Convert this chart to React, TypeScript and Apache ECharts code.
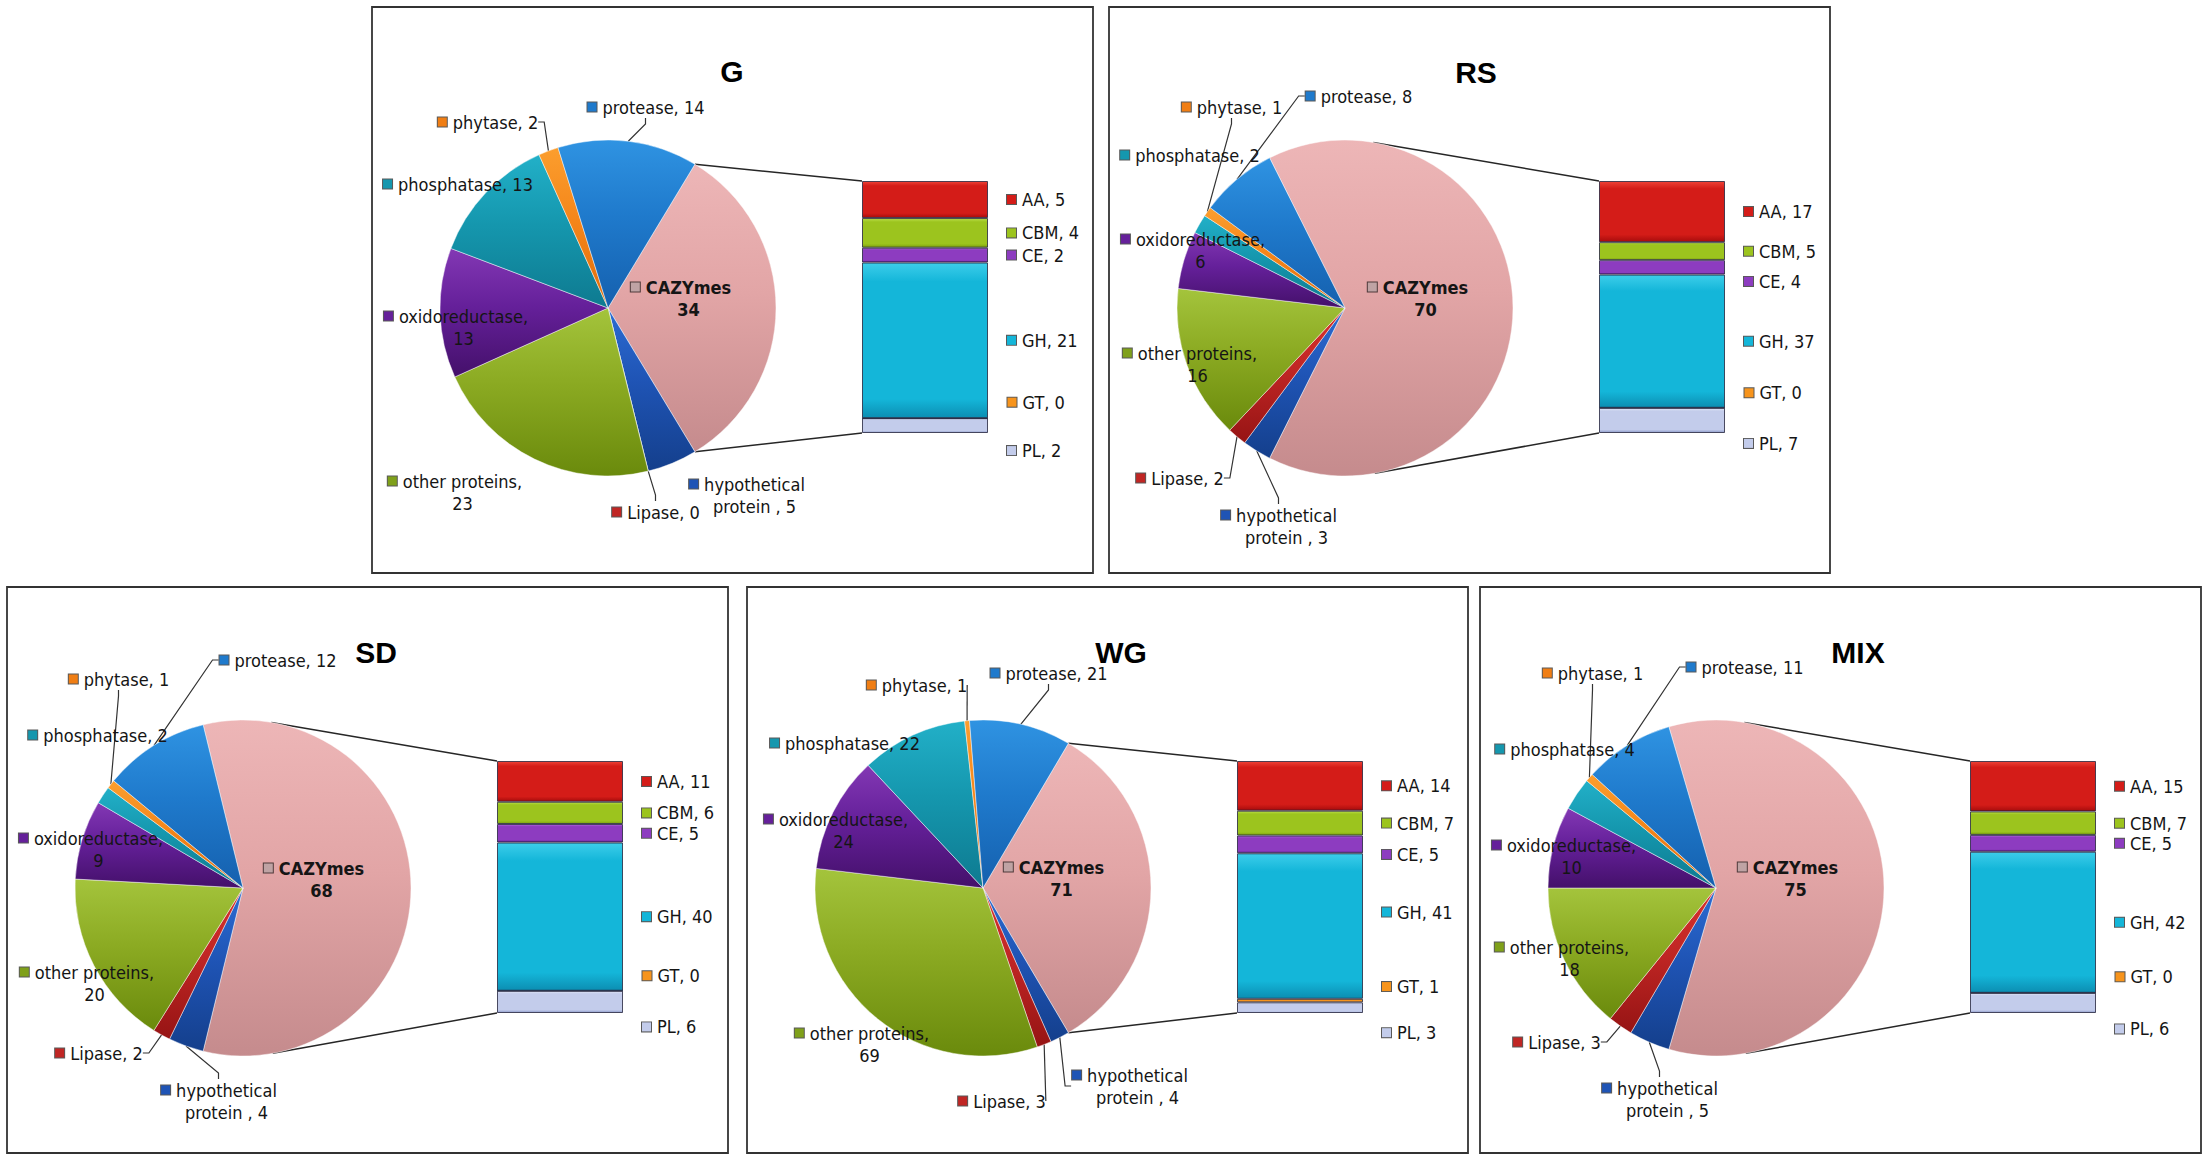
import React, { useEffect, useRef } from "react";
import * as echarts from "echarts";

// ---------------- data ----------------
const PANEL_NAMES = ["G", "RS", "SD", "WG", "MIX"];
const PIE_CATEGORIES = [
  "CAZYmes",
  "hypothetical protein ",
  "Lipase",
  "other proteins",
  "oxidoreductase",
  "phosphatase",
  "phytase",
  "protease",
];
const G_PIE = [34, 5, 0, 23, 13, 13, 2, 14];
const RS_PIE = [70, 3, 2, 16, 6, 2, 1, 8];
const SD_PIE = [68, 4, 2, 20, 9, 2, 1, 12];
const WG_PIE = [71, 4, 3, 69, 24, 22, 1, 21];
const MIX_PIE = [75, 5, 3, 18, 10, 4, 1, 11];

const BAR_CATEGORIES = ["AA", "CBM", "CE", "GH", "GT", "PL"];
const G_BAR = [5, 4, 2, 21, 0, 2];
const RS_BAR = [17, 5, 4, 37, 0, 7];
const SD_BAR = [11, 6, 5, 40, 0, 6];
const WG_BAR = [14, 7, 5, 41, 1, 3];
const MIX_BAR = [15, 7, 5, 42, 0, 6];

const PIE_VALUES = [G_PIE, RS_PIE, SD_PIE, WG_PIE, MIX_PIE];
const BAR_VALUES = [G_BAR, RS_BAR, SD_BAR, WG_BAR, MIX_BAR];

// ---------------- layout & style ----------------
const FONT = "'Liberation Sans Narrow', 'DejaVu Sans Condensed', 'Liberation Sans', sans-serif";
const TITLE_FONT = "'Liberation Sans Narrow', 'Liberation Sans', sans-serif";
const PANEL_ORIGINS = [
  [372, 7],
  [1109, 7],
  [7, 587],
  [747, 587],
  [1480, 587],
];
const PANEL_SIZE = [721, 566];
const PIE_CENTER = [236, 301];
const PIE_RADIUS = 168;
const BAR_BOX = [490, 174, 126, 252];
const TITLE_POS = [
  [360, 64],
  [367, 65],
  [369, 65],
  [374, 65],
  [378, 65],
];
// label block centres, relative to the panel, in PIE_CATEGORIES order
const PIE_LABEL_POS = [
  [[309, 291], [375, 488], [284, 505], [83, 485], [84, 320], [86, 177], [116, 115], [274, 100]],
  [[309, 291], [170, 519], [71, 471], [81, 357], [84, 243], [81, 148], [123, 100], [250, 89]],
  [[307, 292], [212, 514], [92, 466], [80, 396], [84, 262], [91, 148], [112, 92], [271, 73]],
  [[307, 291], [383, 499], [255, 514], [115, 457], [89, 243], [98, 156], [170, 98], [302, 86]],
  [[308, 291], [180, 512], [77, 455], [82, 371], [84, 269], [85, 162], [113, 86], [265, 80]],
];
const PIE_LEADERS = [
  [2, 6, 7],
  [1, 2, 6, 7],
  [1, 2, 6, 7],
  [1, 2, 6, 7],
  [1, 2, 6, 7],
];
const BAR_LABEL_DY = [
  [0, 0, 0, 0, -16, 25],
  [0, 0, 14, 0, -15, 23],
  [0, 0, 0, 0, -15, 25],
  [0, 0, 10, -14, -14, 25],
  [0, 0, 0, 0, -16, 26],
];

const PIE_COLORS = [
  ["#EDB6B7", "#E2A5A6", "#C58B8D"],
  ["#2C6CD2", "#1F54B5", "#143F8C"],
  ["#D8322F", "#C02624", "#961414"],
  ["#A4C43C", "#8BAA22", "#6A8A0C"],
  ["#8338B4", "#65209A", "#44106A"],
  ["#22B0C8", "#1597AE", "#0E7A90"],
  ["#FB9E2E", "#F5861A", "#DE6C0C"],
  ["#2F93E2", "#1F7ACC", "#1560AE"],
];
const PIE_MARKERS = ["#BFA3A4", "#1F54B5", "#C02624", "#7FA01A", "#65209A", "#1597AE", "#F07E14", "#1F7ACC"];
const BAR_COLORS = [
  ["#EE4136", "#D41C18", "#A80C0C"],
  ["#BADF48", "#9CC41E", "#7EA20E"],
  ["#B264DE", "#8D3CC0", "#62208E"],
  ["#3CCDEA", "#14B6D9", "#0C8EB2"],
  ["#FCAA3E", "#F7941C", "#E06E0A"],
  ["#DFE5F6", "#C3CCEB", "#8F9CCB"],
];

function vgrad(c: string[]) {
  return new echarts.graphic.LinearGradient(0, 0, 0, 1, [
    { offset: 0, color: c[0] },
    { offset: 0.45, color: c[1] },
    { offset: 1, color: c[2] },
  ]);
}
function barGrad(c: string[]) {
  return new echarts.graphic.LinearGradient(0, 0, 0, 1, [
    { offset: 0, color: c[0] },
    { offset: 0.12, color: c[1] },
    { offset: 0.88, color: c[1] },
    { offset: 1, color: c[2] },
  ]);
}

function pieLabelText(i: number, name: string, v: number) {
  const mk = `{m${i}|}{g|}`;
  if (name === "CAZYmes") return `${mk}{b|${name}}\n{s|}{b|${v}}`;
  if (name.startsWith("hypothetical")) {
    const parts = name.split(" ");
    return `${mk}${parts[0]}\n{s|}${parts.slice(1).join(" ")}, ${v}`;
  }
  if (name === "oxidoreductase" || name === "other proteins") return `${mk}${name},\n{s|}${v}`;
  return `${mk}${name}, ${v}`;
}

function markerStyle(color: string) {
  return {
    width: 9,
    height: 9,
    backgroundColor: color,
    borderColor: "rgba(0,0,0,0.65)",
    borderWidth: 1,
  };
}

function buildOption() {
  const series: any[] = [];
  const grids: any[] = [];
  const xAxes: any[] = [];
  const yAxes: any[] = [];
  const graphics: any[] = [];

  const pieRich: any = { g: { width: 6 }, s: { width: 15 }, b: { fontWeight: "bold", fontSize: 18, fontFamily: FONT } };
  PIE_MARKERS.forEach((c, i) => (pieRich["m" + i] = markerStyle(c)));

  PANEL_NAMES.forEach((name, p) => {
    const [px, py] = PANEL_ORIGINS[p];
    const pie = PIE_VALUES[p];
    const bar = BAR_VALUES[p];
    const total = pie.reduce((a, b) => a + b, 0);
    const half = (pie[0] / total) * 180;
    const cx = px + PIE_CENTER[0];
    const cy = py + PIE_CENTER[1];
    const labelPos = PIE_LABEL_POS[p];

    // panel frame
    graphics.push({
      type: "rect",
      z: 0,
      shape: { x: px, y: py, width: PANEL_SIZE[0], height: PANEL_SIZE[1] },
      style: { fill: "none", stroke: "#333333", lineWidth: 1.8 },
    });
    // title
    graphics.push({
      type: "text",
      x: px + TITLE_POS[p][0],
      y: py + TITLE_POS[p][1],
      style: {
        text: name,
        font: `bold 30px ${TITLE_FONT}`,
        fill: "#000",
        align: "center",
        verticalAlign: "middle",
      },
    });

    // pie
    series.push({
      type: "pie",
      name,
      center: [cx, cy],
      radius: PIE_RADIUS,
      startAngle: half,
      clockwise: true,
      avoidLabelOverlap: false,
      label: {
        show: true,
        position: "outside",
        fontFamily: FONT,
        fontSize: 18,
        lineHeight: 22,
        color: "#151515",
        formatter: (prm: any) => pieLabelText(prm.dataIndex, prm.name, prm.value),
        rich: pieRich,
      },
      labelLine: {
        show: false,
        length: 6,
        length2: 6,
        lineStyle: { color: "#333333", width: 1.2 },
      },
      labelLayout: (prm: any) => {
        const pos = labelPos[prm.dataIndex];
        return { x: px + pos[0], y: py + pos[1], align: "center", verticalAlign: "middle" };
      },
      itemStyle: { borderColor: "rgba(255,255,255,0.45)", borderWidth: 1 },
      emphasis: { disabled: true },
      data: PIE_CATEGORIES.map((c, i) => ({
        name: c,
        value: pie[i],
        itemStyle: { color: vgrad(PIE_COLORS[i]) },
        labelLine: { show: PIE_LEADERS[p].includes(i) },
      })),
    });

    // bar (breakdown of CAZYmes)
    const barTotal = bar.reduce((a, b) => a + b, 0);
    const bx = px + BAR_BOX[0];
    const by = py + BAR_BOX[1];
    grids.push({ left: bx, top: by, width: BAR_BOX[2], height: BAR_BOX[3] });
    xAxes.push({ type: "category", gridIndex: p, data: ["CAZYmes"], show: false });
    yAxes.push({ type: "value", gridIndex: p, min: 0, max: barTotal, show: false });
    for (let k = BAR_CATEGORIES.length - 1; k >= 0; k--) {
      series.push({
        type: "bar",
        name: BAR_CATEGORIES[k],
        xAxisIndex: p,
        yAxisIndex: p,
        stack: "caz" + p,
        barWidth: "100%",
        data: [bar[k]],
        itemStyle: { color: barGrad(BAR_COLORS[k]), borderColor: "rgba(35,35,60,0.8)", borderWidth: 1 },
        emphasis: { disabled: true },
        label: {
          show: true,
          position: "right",
          distance: 19,
          offset: [0, BAR_LABEL_DY[p][k]],
          fontFamily: FONT,
          fontSize: 18,
          color: "#151515",
          formatter: `{m|}{g|}${BAR_CATEGORIES[k]}, ${bar[k]}`,
          rich: { m: markerStyle(BAR_COLORS[k][1]), g: { width: 6 } },
        },
      });
    }

    // connector lines from the CAZYmes slice (or tangent point) to the bar corners
    const toDeg = 180 / Math.PI;
    const connect = (qx: number, qy: number, top: boolean) => {
      const dx = qx - cx;
      const dy = cy - qy;
      const d = Math.hypot(dx, dy);
      const a = Math.atan2(dy, dx) * toDeg;
      const t = Math.acos(PIE_RADIUS / d) * toDeg;
      const ang = top ? Math.min(half, a + t) : Math.max(-half, a - t);
      const sx = cx + PIE_RADIUS * Math.cos(ang / toDeg);
      const sy = cy - PIE_RADIUS * Math.sin(ang / toDeg);
      graphics.push({
        type: "line",
        shape: { x1: sx, y1: sy, x2: qx, y2: qy },
        style: { stroke: "#262626", lineWidth: 1.5 },
      });
    };
    connect(bx, by, true);
    connect(bx, by + BAR_BOX[3], false);
  });

  return {
    animation: false,
    backgroundColor: "#ffffff",
    grid: grids,
    xAxis: xAxes,
    yAxis: yAxes,
    series,
    graphic: graphics,
  };
}

export default function App() {
  const ref = useRef<HTMLDivElement>(null);
  useEffect(() => {
    const chart = echarts.init(ref.current!, null, { renderer: "svg" });
    chart.setOption(buildOption() as any);
    return () => chart.dispose();
  }, []);
  return (
    <div
      ref={ref}
      style={{ position: "fixed", left: 0, top: 0, width: 2210, height: 1158, background: "#fff" }}
    />
  );
}
